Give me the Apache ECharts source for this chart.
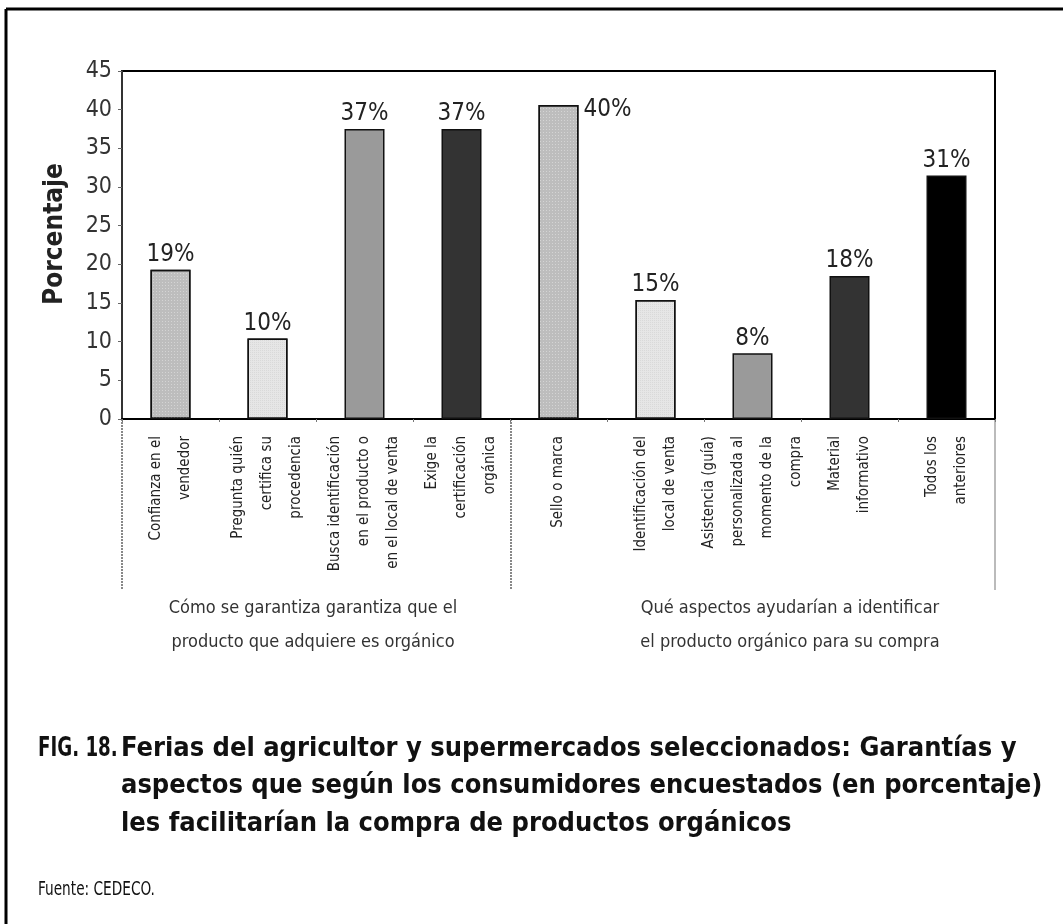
<!DOCTYPE html>
<html>
<head>
<meta charset="utf-8">
<script src="https://cdn.jsdelivr.net/npm/echarts@6/dist/echarts.min.js"></script>
<style>
  html, body { margin: 0; padding: 0; background: #fff; }
  #chart { width: 1063px; height: 924px; }
</style>
</head>
<body>
<div id="chart"></div>
<script>
// categorias del eje x (dos grupos: garantias / aspectos)
const categories = [
  "Confianza en el\nvendedor",
  "Pregunta quién\ncertifica su\nprocedencia",
  "Busca identificación\nen el producto o\nen el local de venta",
  "Exige la\ncertificación\norgánica",
  "Sello o marca",
  "Identificación del\nlocal de venta",
  "Asistencia (guía)\npersonalizada al\nmomento de la\ncompra",
  "Material\ninformativo",
  "Todos los\nanteriores"
];
// porcentaje de consumidores
const values = [19.3, 10.4, 37.5, 37.5, 40.6, 15.4, 8.5, 18.5, 31.5];
const barColors = ["#bdbdbd", "#e6e6e6", "#9a9a9a", "#333333", "#bdbdbd", "#e6e6e6", "#9a9a9a", "#333333", "#000000"];
const yTicks = [0, 5, 10, 15, 20, 25, 30, 35, 40, 45];
const groupLabels = [
  "Cómo se garantiza garantiza que el\nproducto que adquiere es orgánico",
  "Qué aspectos ayudarían a identificar\nel producto orgánico para su compra"
];

const NARROW = "'Liberation Sans Narrow', 'DejaVu Sans Condensed', 'Roboto', sans-serif";

const myChart = echarts.init(document.getElementById("chart"));

const dots = {
  symbol: "rect",
  symbolSize: 1,
  dashArrayX: [1, 2],
  dashArrayY: [1, 2],
  color: "rgba(255,255,255,0.35)"
};
const fine = {
  symbol: "rect",
  symbolSize: 1,
  dashArrayX: [1, 1],
  dashArrayY: [1, 1],
  color: "rgba(180,180,180,0.25)"
};

const option = {
  backgroundColor: "#fff",
  animation: false,
  grid: {
    left: 122,
    right: 68,
    top: 71,
    bottom: 505,
    show: true,
    borderColor: "#000",
    borderWidth: 2
  },
  xAxis: {
    type: "category",
    data: categories,
    axisLine: { lineStyle: { color: "#000", width: 2 } },
    axisTick: { show: true, length: 3, lineStyle: { color: "#777" } },
    axisLabel: {
      interval: 0,
      rotate: 90,
      margin: 17,
      fontFamily: NARROW,
      fontSize: 15,
      lineHeight: 29,
      color: "#222"
    }
  },
  yAxis: {
    type: "value",
    min: yTicks[0],
    max: yTicks[yTicks.length - 1],
    interval: 5,
    name: "Porcentaje",
    nameLocation: "middle",
    nameRotate: 90,
    nameGap: 54,
    nameTextStyle: {
      fontFamily: NARROW,
      fontWeight: "bold",
      fontSize: 26,
      color: "#222",
      padding: [0, 0, 0, 22]
    },
    splitLine: { show: false },
    axisLine: { show: true, lineStyle: { color: "#444", width: 1.5 } },
    axisTick: { show: true, length: 4, lineStyle: { color: "#666" } },
    axisLabel: {
      margin: 10,
      fontFamily: NARROW,
      fontSize: 23,
      color: "#333",
      padding: [0, 0, 8, 0]
    }
  },
  series: [
    {
      type: "bar",
      barWidth: 40,
      data: values.map((v, i) => {
        let decal = null;
        if (i === 0 || i === 4) decal = dots;
        if (i === 1 || i === 5) decal = fine;
        const item = {
          value: v,
          itemStyle: { color: barColors[i], decal: decal }
        };
        // la etiqueta del 40% va a la derecha de la barra
        if (i === 4) {
          item.label = { position: [45, -7], align: "left", verticalAlign: "top" };
        }
        return item;
      }),
      itemStyle: { borderColor: "#111", borderWidth: 1.5 },
      label: {
        show: true,
        position: "top",
        distance: 3,
        fontFamily: NARROW,
        fontSize: 24,
        color: "#222",
        formatter: p => Math.floor(p.value) + "%"
      }
    }
  ],
  graphic: [
    // marco exterior (solo arriba e izquierda)
    { type: "line", shape: { x1: 6, y1: 9, x2: 1063, y2: 9 }, style: { stroke: "#000", lineWidth: 3 } },
    { type: "line", shape: { x1: 6, y1: 9, x2: 6, y2: 924 }, style: { stroke: "#000", lineWidth: 3 } },
    // separadores de grupos bajo el eje
    { type: "line", shape: { x1: 122, y1: 419, x2: 122, y2: 590 }, style: { stroke: "#888", lineWidth: 2, lineDash: [2, 1] } },
    { type: "line", shape: { x1: 511, y1: 419, x2: 511, y2: 590 }, style: { stroke: "#888", lineWidth: 2, lineDash: [2, 1] } },
    { type: "line", shape: { x1: 995, y1: 419, x2: 995, y2: 590 }, style: { stroke: "#bbb", lineWidth: 2 } },
    {
      type: "text", x: 313, y: 591,
      style: { text: groupLabels[0], fontFamily: NARROW, fontSize: 18, lineHeight: 34, fill: "#333", align: "center" }
    },
    {
      type: "text", x: 790, y: 591,
      style: { text: groupLabels[1], fontFamily: NARROW, fontSize: 18, lineHeight: 34, fill: "#333", align: "center" }
    },
    {
      type: "text", x: 38, y: 730, scaleX: 0.75,
      style: { text: "FIG. 18.", fontFamily: NARROW, fontWeight: "bold", fontSize: 27, lineHeight: 37, fill: "#111" }
    },
    {
      type: "text", x: 121, y: 730,
      style: {
        text: "Ferias del agricultor y supermercados seleccionados: Garantías y\naspectos que según los consumidores encuestados (en porcentaje)\nles facilitarían la compra de productos orgánicos",
        fontFamily: NARROW, fontWeight: "bold", fontSize: 27, lineHeight: 37.5, fill: "#111"
      }
    },
    {
      type: "text", x: 38, y: 881, scaleX: 0.8,
      style: { text: "Fuente: CEDECO.", fontFamily: NARROW, fontSize: 19, fill: "#111" }
    }
  ]
};

myChart.setOption(option);
</script>
</body>
</html>
